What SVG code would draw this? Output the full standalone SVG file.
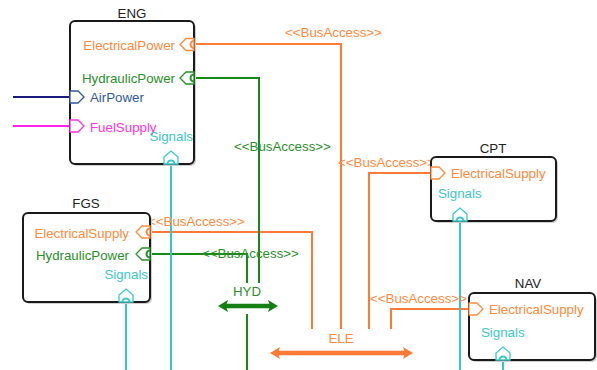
<svg xmlns="http://www.w3.org/2000/svg" width="597" height="370" viewBox="0 0 597 370">
<style>
text{font-family:"Liberation Sans",Arial,sans-serif;font-size:13.3px}
.title{fill:#222;text-anchor:middle}
.box{fill:#fff;stroke:#1a1a1a;stroke-width:2}
.shadow{fill:#d0d0d0}
.or{fill:#ff8a3d}
.gr{fill:#2a8f2a}
.cy{fill:#3cc8c8}
.nv{fill:#2f5a9e}
.mg{fill:#ff33dd}
.c{fill:none;stroke-width:2}
.co{stroke:#ff7a35}
.cg{stroke:#158a15}
.cc{stroke:#33c6c6}
.pt{fill:#fff;stroke-width:1.3}
.po{stroke:#ff8a3d}
.pg{stroke:#2a8f2a}
.pc{stroke:#3cc8c8}
.pn{stroke:#2f5a9e}
.pm{stroke:#ff33dd}
</style>
<defs>
<marker id="ahg" viewBox="0 0 10 12" refX="2" refY="6" markerWidth="10" markerHeight="13" markerUnits="userSpaceOnUse" orient="auto-start-reverse"><path d="M0,0 L10,6 L0,12 L2,6 Z" fill="#157f15"/></marker>
<marker id="aho" viewBox="0 0 10 12" refX="2" refY="6" markerWidth="10" markerHeight="12" markerUnits="userSpaceOnUse" orient="auto-start-reverse"><path d="M0,0 L10,6 L0,12 L2,6 Z" fill="#ff7a35"/></marker>
</defs>

<g id="connectors">
<path class="c co" d="M194,44 H341 V329"/>
<path class="c co" d="M150,232 H312 V329"/>
<path class="c co" d="M431,173 H369 V329"/>
<path class="c co" d="M469,309 H391 V329"/>
<path class="c cg" d="M194,78 H259 V283"/>
<path class="c cg" d="M150,254 H247 V283"/>
<path class="c cg" d="M247,314 V370"/>
<path class="c" stroke="#1a1a7a" d="M13,97 H70"/>
<path class="c" stroke="#ff22ee" d="M13,126 H70"/>
<path class="c cc" d="M171,164 V370"/>
<path class="c cc" d="M126,302 V370"/>
<path class="c cc" d="M460,221 V370"/>
<path class="c cc" d="M503,360 V370"/>
<text class="or" x="285" y="37">&lt;&lt;BusAccess&gt;&gt;</text>
<text class="gr" x="234" y="151">&lt;&lt;BusAccess&gt;&gt;</text>
<text class="or" x="338" y="167">&lt;&lt;BusAccess&gt;&gt;</text>
<text class="or" x="148" y="226">&lt;&lt;BusAccess&gt;&gt;</text>
<text class="gr" x="202" y="258">&lt;&lt;BusAccess&gt;&gt;</text>
<text class="or" x="370" y="303">&lt;&lt;BusAccess&gt;&gt;</text>
</g>

<g id="HYD">
<text class="gr" x="247" y="296" text-anchor="middle">HYD</text>
<path d="M226,306 H270" stroke="#157f15" stroke-width="4.5" marker-start="url(#ahg)" marker-end="url(#ahg)"/>
</g>

<g id="ELE">
<text class="or" x="341" y="343" text-anchor="middle">ELE</text>
<path d="M278,353 H405" stroke="#ff7a35" stroke-width="4.5" marker-start="url(#aho)" marker-end="url(#aho)"/>
</g>

<g id="ENG">
<text class="title" x="132" y="18">ENG</text>
<rect class="shadow" x="72" y="23" width="124" height="143" rx="5"/>
<rect class="box" x="70" y="21" width="124" height="143" rx="5"/>
<text class="or" x="175" y="50" text-anchor="end">ElectricalPower</text>
<path class="pt po" d="M194,38.5 H186 L180,44.5 L186,50.5 H194 Z"/>
<path class="c po" stroke-width="1.2" d="M194,41 A3.5,3.5 0 0 0 194,48"/>
<text class="gr" x="175" y="83" text-anchor="end">HydraulicPower</text>
<path class="pt pg" d="M194,72 H186 L180,78 L186,84 H194 Z"/>
<path class="c pg" stroke-width="1.2" d="M194,74.5 A3.5,3.5 0 0 0 194,81.5"/>
<path class="pt pn" d="M70,91 H78 L84,97 L78,103 H70 Z"/>
<text class="nv" x="90" y="102">AirPower</text>
<path class="pt pm" d="M70,120 H78 L84,126 L78,132 H70 Z"/>
<text class="mg" x="90" y="132">FuelSupply</text>
<text class="cy" x="193" y="141" text-anchor="end">Signals</text>
<path class="pt pc" d="M164,164 V157 L171,151 L178,157 V164 Z"/>
<path class="c pc" stroke-width="1.2" d="M167.5,164 A3.5,3.5 0 0 1 174.5,164"/>
</g>

<g id="FGS">
<text class="title" x="86" y="208">FGS</text>
<rect class="shadow" x="25" y="215" width="127" height="89" rx="5"/>
<rect class="box" x="23" y="213" width="127" height="89" rx="5"/>
<text class="or" x="129" y="238" text-anchor="end">ElectricalSupply</text>
<path class="pt po" d="M150,226 H142 L136,232 L142,238 H150 Z"/>
<path class="c po" stroke-width="1.2" d="M150,228.5 A3.5,3.5 0 0 0 150,235.5"/>
<text class="gr" x="129" y="260" text-anchor="end">HydraulicPower</text>
<path class="pt pg" d="M150,248 H142 L136,254 L142,260 H150 Z"/>
<path class="c pg" stroke-width="1.2" d="M150,250.5 A3.5,3.5 0 0 0 150,257.5"/>
<text class="cy" x="148" y="279" text-anchor="end">Signals</text>
<path class="pt pc" d="M119,302 V295 L126,289 L133,295 V302 Z"/>
<path class="c pc" stroke-width="1.2" d="M122.5,302 A3.5,3.5 0 0 1 129.5,302"/>
</g>

<g id="CPT">
<text class="title" x="493" y="153">CPT</text>
<rect class="shadow" x="433" y="159" width="125" height="64" rx="5"/>
<rect class="box" x="431" y="157" width="125" height="64" rx="5"/>
<path class="pt po" d="M431,167 H439 L445,173 L439,179 H431 Z"/>
<text class="or" x="451" y="178">ElectricalSupply</text>
<text class="cy" x="438" y="198">Signals</text>
<path class="pt pc" d="M453,221 V214 L460,208 L467,214 V221 Z"/>
<path class="c pc" stroke-width="1.2" d="M456.5,221 A3.5,3.5 0 0 1 463.5,221"/>
</g>

<g id="NAV">
<text class="title" x="528" y="288">NAV</text>
<rect class="shadow" x="471" y="295" width="126" height="67" rx="5"/>
<rect class="box" x="469" y="293" width="126" height="67" rx="5"/>
<path class="pt po" d="M469,303 H477 L483,309 L477,315 H469 Z"/>
<text class="or" x="489" y="314">ElectricalSupply</text>
<text class="cy" x="481" y="337">Signals</text>
<path class="pt pc" d="M496,360 V353 L503,347 L510,353 V360 Z"/>
<path class="c pc" stroke-width="1.2" d="M499.5,360 A3.5,3.5 0 0 1 506.5,360"/>
</g>
</svg>
